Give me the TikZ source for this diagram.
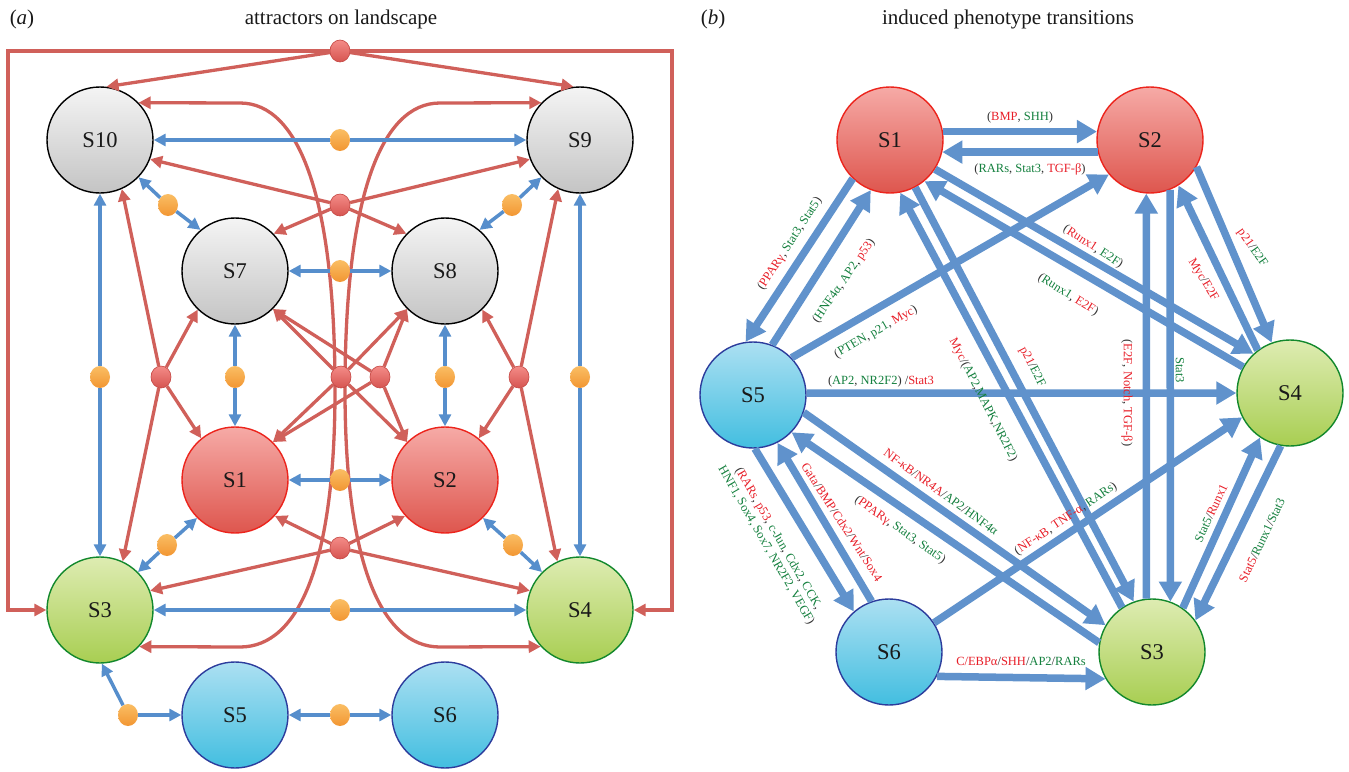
\documentclass[tikz,border=0pt]{standalone}
\usepackage{fontspec}
\setmainfont{Liberation Serif}
\usetikzlibrary{arrows.meta,shapes.geometric}

\definecolor{arrred}{RGB}{208,96,90}
\definecolor{arrblue}{RGB}{86,142,204}
\definecolor{arrblueb}{RGB}{96,146,204}
\definecolor{lblred}{RGB}{232,30,40}
\definecolor{lblgreen}{RGB}{20,128,62}
\definecolor{gtop}{RGB}{244,244,244}
\definecolor{gbot}{RGB}{196,196,196}
\definecolor{rtop}{RGB}{246,170,166}
\definecolor{rbot}{RGB}{222,86,78}
\definecolor{rborder}{RGB}{236,36,28}
\definecolor{grtop}{RGB}{222,236,178}
\definecolor{grbot}{RGB}{168,206,82}
\definecolor{grborder}{RGB}{18,136,44}
\definecolor{btop}{RGB}{172,224,242}
\definecolor{bbot}{RGB}{66,190,224}
\definecolor{bborder}{RGB}{44,60,156}
\definecolor{rdtop}{RGB}{244,140,136}
\definecolor{rdbot}{RGB}{214,84,80}
\definecolor{rdline}{RGB}{196,70,66}
\definecolor{odtop}{RGB}{250,190,100}
\definecolor{odbot}{RGB}{242,150,50}

\newcommand\txr[1]{\textcolor{lblred}{#1}}
\newcommand\txg[1]{\textcolor{lblgreen}{#1}}

\begin{document}
\begin{tikzpicture}[x=1pt,y=1pt,
  state/.style={circle, minimum size=106pt, inner sep=0pt, line width=1.4pt,
    font=\fontsize{22.5}{24}\selectfont, text=black!90},
  grayst/.style={state, draw=black, top color=gtop, bottom color=gbot},
  redst/.style={state, draw=rborder, top color=rtop, bottom color=rbot},
  greenst/.style={state, draw=grborder, top color=grtop, bottom color=grbot},
  bluest/.style={state, draw=bborder, top color=btop, bottom color=bbot},
  rdot/.style={ellipse, minimum width=20pt, minimum height=22pt, inner sep=0pt,
    draw=rdline, line width=0.6pt, top color=rdtop, bottom color=rdbot},
  odot/.style={ellipse, minimum width=20pt, minimum height=22pt, inner sep=0pt,
    top color=odtop, bottom color=odbot},
  redarr/.style={draw=arrred, line width=3.3pt, -{Triangle[length=12pt,width=12pt]}},
  redboth/.style={draw=arrred, line width=3.3pt,
    {Triangle[length=12pt,width=12pt]}-{Triangle[length=12pt,width=12pt]}},
  bluearr/.style={draw=arrblue, line width=3.5pt, -{Triangle[length=12pt,width=12pt]}},
  bigarr/.style={draw=arrblueb, line width=7.5pt, -{Triangle[length=20pt,width=22pt]}},
  elbl/.style={font=\fontsize{12.5}{14}\selectfont, inner sep=0pt, text=black!80},
  ptitle/.style={font=\fontsize{21}{23}\selectfont, text=black!90}
]
\fill[white] (0,0) rectangle (1349,-771);
\useasboundingbox (0,0) rectangle (1349,-771);

% ---------- titles ----------
\node[ptitle] (ta) at (22,-19) {(\textit{a})};
\node[ptitle] (tla) at (341,-19) {attractors on landscape};
\node[ptitle] (tb) at (713,-19) {(\textit{b})};
\node[ptitle] (tlb) at (1008,-19) {induced phenotype transitions};

% ================= panel (a) =================
\node[grayst]  (aS10) at (100,-140) {S10};
\node[grayst]  (aS9)  at (580,-140) {S9};
\node[grayst]  (aS7)  at (235,-271) {S7};
\node[grayst]  (aS8)  at (445,-271) {S8};
\node[redst]   (aS1)  at (235,-480) {S1};
\node[redst]   (aS2)  at (445,-480) {S2};
\node[greenst] (aS3)  at (100,-610) {S3};
\node[greenst] (aS4)  at (580,-610) {S4};
\node[bluest]  (aS5)  at (235,-715) {S5};
\node[bluest]  (aS6)  at (445,-715) {S6};

% long curved transitions through the centre
\draw[redboth] (aS10.44) -- (240,-103) .. controls (300,-103) and (335,-200) .. (335,-390)
  .. controls (335,-560) and (300,-647) .. (240,-647) -- (aS3.317);
\draw[redboth] (aS9.136) -- (440,-103) .. controls (380,-103) and (345,-200) .. (345,-390)
  .. controls (345,-560) and (380,-647) .. (440,-647) -- (aS4.223);

% red hubs
\node[rdot] (htop) at (340,-51) {};
\node[rdot] (hup)  at (340,-205) {};
\node[rdot] (hl)   at (161,-377) {};
\node[rdot] (hr)   at (519,-377) {};
\node[rdot] (hc1)  at (341,-377) {};
\node[rdot] (hc2)  at (380,-377) {};
\node[rdot] (hbot) at (340,-548) {};

% orange hubs
\node[odot] (o1)  at (340,-140) {};
\node[odot] (o2)  at (340,-271) {};
\node[odot] (o3)  at (340,-480) {};
\node[odot] (o4)  at (340,-610) {};
\node[odot] (o5)  at (340,-715) {};
\node[odot] (o6)  at (168,-205) {};
\node[odot] (o7)  at (512,-205) {};
\node[odot] (o8)  at (167,-545) {};
\node[odot] (o9)  at (513,-545) {};
\node[odot] (o10) at (100,-377) {};
\node[odot] (o11) at (580,-377) {};
\node[odot] (o12) at (235,-377) {};
\node[odot] (o13) at (445,-377) {};
\node[odot] (o14) at (128,-715) {};

% outer frame
\draw[redarr] (htop) -- (8,-51) -- (8,-610) -- (aS3.180);
\draw[redarr] (htop) -- (672,-51) -- (672,-610) -- (aS4.0);
\draw[redarr] (htop) -- (aS10.83);
\draw[redarr] (htop) -- (aS9.97);

\foreach \t in {aS10.339,aS9.201,aS7.44,aS8.136} \draw[redarr] (hup) -- (\t);
\foreach \t in {aS10.294,aS3.65,aS7.226,aS1.129} \draw[redarr] (hl) -- (\t);
\foreach \t in {aS9.246,aS4.115,aS8.314,aS2.51} \draw[redarr] (hr) -- (\t);
\foreach \t in {aS7.315,aS8.225,aS1.45,aS2.135} \draw[redarr] (hc1) -- (\t);
\foreach \t in {aS7.315,aS8.225,aS1.45,aS2.135} \draw[redarr] (hc2) -- (\t);
\foreach \t in {aS1.318,aS2.222,aS3.21,aS4.159} \draw[redarr] (hbot) -- (\t);

% blue reversible links
\draw[bluearr] (o1) -- (aS10.0);  \draw[bluearr] (o1) -- (aS9.180);
\draw[bluearr] (o2) -- (aS7.0);   \draw[bluearr] (o2) -- (aS8.180);
\draw[bluearr] (o3) -- (aS1.0);   \draw[bluearr] (o3) -- (aS2.180);
\draw[bluearr] (o4) -- (aS3.0);   \draw[bluearr] (o4) -- (aS4.180);
\draw[bluearr] (o5) -- (aS5.0);   \draw[bluearr] (o5) -- (aS6.180);
\draw[bluearr] (o6) -- (aS10.316); \draw[bluearr] (o6) -- (aS7.130);
\draw[bluearr] (o7) -- (aS9.224);  \draw[bluearr] (o7) -- (aS8.50);
\draw[bluearr] (o8) -- (aS1.225);  \draw[bluearr] (o8) -- (aS3.45);
\draw[bluearr] (o9) -- (aS2.315);  \draw[bluearr] (o9) -- (aS4.135);
\draw[bluearr] (o10) -- (aS10.270); \draw[bluearr] (o10) -- (aS3.90);
\draw[bluearr] (o11) -- (aS9.270);  \draw[bluearr] (o11) -- (aS4.90);
\draw[bluearr] (o12) -- (aS7.270);  \draw[bluearr] (o12) -- (aS1.90);
\draw[bluearr] (o13) -- (aS8.270);  \draw[bluearr] (o13) -- (aS2.90);
\draw[bluearr] (o14) -- (aS3.272);  \draw[bluearr] (o14) -- (aS5.180);

% ================= panel (b) =================
\node[redst]   (bS1) at (890,-140) {S1};
\node[redst]   (bS2) at (1150,-140) {S2};
\node[bluest]  (bS5) at (753,-395) {S5};
\node[greenst] (bS4) at (1290,-393) {S4};
\node[bluest]  (bS6) at (889,-652) {S6};
\node[greenst] (bS3) at (1152,-652) {S3};

\draw[bigarr] (bS1.9)   -- (bS2.171);
\draw[bigarr] (bS2.193) -- (bS1.347);
\draw[bigarr] (bS1.226) -- (bS5.98);
\draw[bigarr] (bS5.69)  -- (bS1.249);
\draw[bigarr] (bS5.44)  -- (bS2.220);
\draw[bigarr] (bS5.2)   -- (bS4.180);
\draw[bigarr] (bS1.327) -- (bS4.133);
\draw[bigarr] (bS4.151) -- (bS1.310);
\draw[bigarr] (bS1.298) -- (bS3.110);
\draw[bigarr] (bS3.124) -- (bS1.281);
\draw[bigarr] (bS2.292) -- (bS3.70);
\draw[bigarr] (bS3.96)  -- (bS2.266);
\draw[bigarr] (bS2.330) -- (bS4.110);
\draw[bigarr] (bS4.127) -- (bS2.302);
\draw[bigarr] (bS3.55)  -- (bS4.236);
\draw[bigarr] (bS4.260) -- (bS3.36);
\draw[bigarr] (bS6.33)  -- (bS4.207);
\draw[bigarr] (bS5.341) -- (bS3.150);
\draw[bigarr] (bS3.170) -- (bS5.316);
\draw[bigarr] (bS5.272) -- (bS6.131);
\draw[bigarr] (bS6.109) -- (bS5.297);
\draw[bigarr] (bS6.333) -- (bS3.210);

% transition labels
\node[elbl] (l1)  at (1020,-117) {(\txr{BMP}, \txg{SHH})};
\node[elbl] (l2)  at (1030,-169) {(\txg{RARs}, \txg{Stat3}, \txr{TGF-β})};
\node[elbl, rotate=57] (l3) at (790,-244) {(\txr{PPARγ}, \txg{Stat3}, \txg{Stat5})};
\node[elbl, rotate=55] (l4) at (844,-281) {(\txg{HNF4α}, \txg{AP2}, \txr{p53})};
\node[elbl, rotate=30] (l5) at (876,-332) {(\txg{PTEN}, \txg{p21}, \txr{Myc})};
\node[elbl] (l6)  at (881,-381) {(\txg{AP2}, \txg{NR2F2}) /\txr{Stat3}};
\node[elbl, rotate=-33] (l7) at (1093,-247) {(\txr{Runx1}, \txg{E2F})};
\node[elbl, rotate=-32] (l8) at (1068,-295) {(\txg{Runx1}, \txr{E2F})};
\node[elbl, rotate=-55] (l9) at (1252,-248) {\txr{p21}/\txg{E2F}};
\node[elbl, rotate=-59] (l10) at (1203,-280) {\txr{Myc}/\txr{E2F}};
\node[elbl, rotate=-90] (l11) at (1127,-393) {(\txr{E2F}, \txr{Notch}, \txr{TGF-β})};
\node[elbl, rotate=-90] (l12) at (1180,-370) {\txg{Stat3}};
\node[elbl, rotate=-63] (l13) at (1032,-367) {\txr{p21}/\txg{E2F}};
\node[elbl, rotate=-63] (l14) at (983,-400) {\txr{Myc}/(\txg{AP2},\txg{MAPK},\txg{NR2F2})};
\node[elbl, rotate=34] (l15) at (1066,-519) {(\txr{NF-κB}, \txr{TNF-α}, \txg{RARs})};
\node[elbl, rotate=65] (l16) at (1211,-513) {\txg{Stat5}/\txr{Runx1}};
\node[elbl, rotate=64.5] (l17) at (1262,-540) {\txr{Stat5}/\txg{Runx1}/\txg{Stat3}};
\node[elbl, rotate=-36] (l18) at (941,-492) {\txr{NF-κB}/\txr{NR4A}/\txg{AP2}/\txg{HNF4α}};
\node[elbl, rotate=-35] (l19) at (900,-530) {(\txr{PPARγ}, \txg{Stat3}, \txg{Stat5})};
\node[elbl, rotate=-57] (l20) at (842,-522) {\txr{Gata}/\txr{BMP}/\txr{Cdx2}/\txr{Wnt}/\txr{Sox4}};
\node[elbl, rotate=-60, align=center] (l21) at (772,-542)
  {(\txr{RARs}, \txr{p53}, \txg{c-Jun}, \txg{Cdx2}, \txg{CCK},\\
   \txg{HNF1, Sox4, Sox7, NR2F2, VEGF})};
\node[elbl] (l22) at (1021,-661) {\txr{C/EBPα}/\txr{SHH}/\txg{AP2}/\txg{RARs}};
\end{tikzpicture}
\end{document}
